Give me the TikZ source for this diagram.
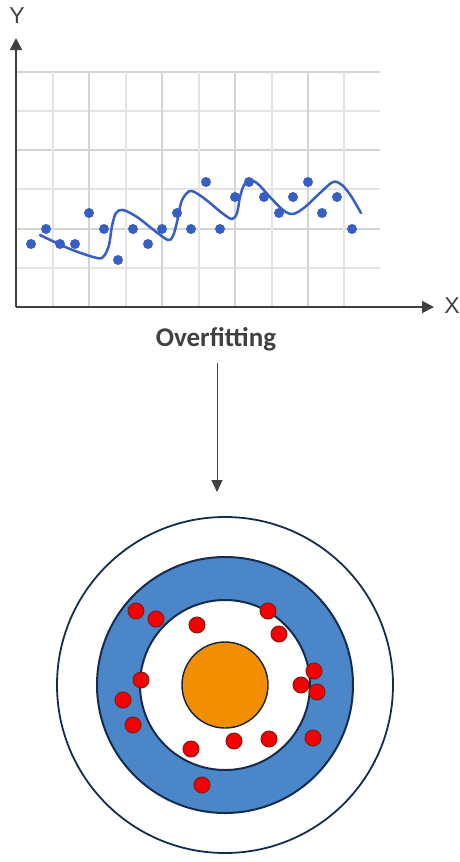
\documentclass[tikz,border=0pt]{standalone}
\usepackage{fontspec}
\setmainfont{Carlito}
\newfontfamily\axisfont{Liberation Sans}
\usetikzlibrary{arrows.meta}
\definecolor{axisgray}{RGB}{64,64,64}
\definecolor{gridminor}{RGB}{228,228,228}
\definecolor{gridmajor}{RGB}{212,212,212}
\definecolor{fitblue}{RGB}{54,94,196}
\definecolor{ringblue}{RGB}{74,134,200}
\definecolor{ringline}{RGB}{22,44,78}
\definecolor{bullorange}{RGB}{242,142,0}
\definecolor{hitred}{RGB}{245,0,0}
\definecolor{hitedge}{RGB}{130,30,20}
\begin{document}
\begin{tikzpicture}[x=1pt,y=-1pt,
  gridmin/.style={gridminor,line width=1.2pt},
  gridmaj/.style={gridmajor,line width=1.4pt},
  axisline/.style={axisgray,line width=1.8pt},
  datadot/.style={circle,fill=fitblue,inner sep=0pt,minimum size=10pt},
  hit/.style={circle,fill=hitred,draw=hitedge,line width=1pt,inner sep=0pt,minimum size=16pt},
  ring/.style={draw=ringline,line width=2pt}]
\useasboundingbox (0,0) rectangle (460,862);
% grid
\foreach \yy in {111,189,268} \draw[gridmin] (16,\yy) -- (380,\yy);
\foreach \yy in {72,150,229} \draw[gridmaj] (16,\yy) -- (380,\yy);
\foreach \xx in {53,126,199,272,344} \draw[gridmin] (\xx,72) -- (\xx,307);
\foreach \xx in {89,162,235,308} \draw[gridmaj] (\xx,72) -- (\xx,307);
% axes
\coordinate (origin) at (16,307);
\coordinate (ytip) at (16,38);
\coordinate (xtip) at (434,307);
\draw[axisline,-{Triangle[length=12pt,width=12pt]}] (origin) -- (ytip);
\draw[axisline,-{Triangle[length=12pt,width=12pt]}] (origin) -- (xtip);
\node[font=\axisfont\fontsize{23}{23}\selectfont,text=axisgray] (ylab) at (17,16) {Y};
\node[font=\axisfont\fontsize{23}{23}\selectfont,text=axisgray] (xlab) at (452,306) {X};
% fitted curve
\draw[fitblue,line width=2.5pt,line cap=round] plot[smooth,tension=0.55] coordinates {
 (40,235) (70,249) (97,258) (104,256) (109,245) (112,226) (116,213) (123,210) (137,217) (155,231) (168,240) (173,236) (177,222) (181,203) (186,194) (192,191) (205,199) (222,213) (232,219) (237,213) (240,197) (244,185) (250,180) (258,184) (270,197) (283,210) (293,214) (305,207) (320,193) (333,182) (342,185) (351,196) (361,213)};
% data points
\foreach \px/\py [count=\i] in {31/244,46/229,60/244,75/244,89/213,104/229,118/260,133/229,148/244,162/229,177/213,191/229,206/182,220/229,235/197,249/182,264/197,279/213,293/197,308/182,322/213,337/197,352/229}
  \node[datadot] (d\i) at (\px,\py) {};
% label and arrow
\node[font=\bfseries\fontsize{27}{27}\selectfont,text=axisgray] (label) at (216,339) {Overfitting};
\coordinate (astart) at (217,363);
\coordinate (aend) at (217,492);
\draw[axisgray,line width=1pt,-{Triangle[length=12pt,width=11pt]}] (astart) -- (aend);
% target
\node[circle,draw=ringline,line width=1.8pt,minimum size=336pt,inner sep=0pt] (outer) at (225,685) {};
\node[circle,ring,fill=ringblue,minimum size=256pt,inner sep=0pt] (mid) at (225,685) {};
\node[circle,ring,fill=white,minimum size=170pt,inner sep=0pt] (inner) at (225,685) {};
\node[circle,draw=ringline!80!black,line width=1.4pt,fill=bullorange,minimum size=86pt,inner sep=0pt] (bull) at (225,685) {};
\foreach \hx/\hy [count=\j] in {136/611,156/619,197/625,268/611,279/634,314/671,301/685,317/692,141/680,123/700,133/725,313/738,191/749,234/741,269/739,202/785}
  \node[hit] (h\j) at (\hx,\hy) {};
\end{tikzpicture}
\end{document}
